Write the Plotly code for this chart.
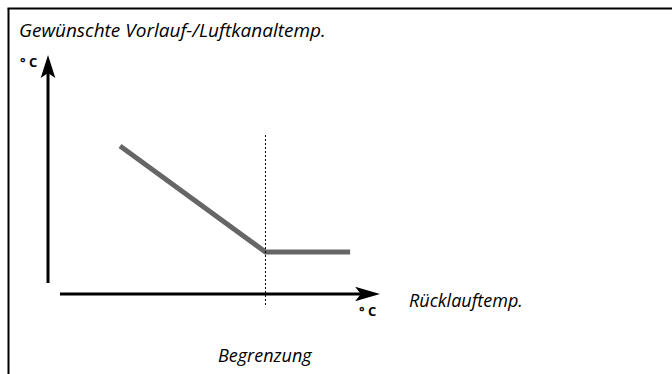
import plotly.graph_objects as go

# Schematic: desired flow / duct temperature versus return temperature,
# with a limit ("Begrenzung") on the return temperature.
ruecklauf = [2.17, 6.55, 9.10]     # return temperature (schematic units)
vorlauf = [6.19, 1.76, 1.76]       # desired flow temperature (schematic units)
begrenzung = 6.55                  # return temperature limit

title_text = "Gewünschte Vorlauf-/Luftkanaltemp."
x_label = "Rücklauftemp."
limit_label = "Begrenzung"
unit_label = "° C"

W, H = 672, 374
FONT = "Open Sans"

# axis window so that the schematic sits where the arrows are drawn
x_range = [-1.446, 18.795]
y_range = [-3.347, 12.30]
x_tip, y_tip = 10.0, 10.0

fig = go.Figure()

fig.add_trace(go.Scatter(
    x=ruecklauf, y=vorlauf, mode="lines",
    line=dict(color="#666666", width=5),
    hoverinfo="skip", showlegend=False,
))

shapes = []
# axes lines
shapes.append(dict(type="line", x0=0, x1=0, y0=0.46, y1=9.3,
                   line=dict(color="black", width=3)))
shapes.append(dict(type="line", x0=0.36, x1=9.5, y0=0, y1=0,
                   line=dict(color="black", width=3)))
# arrow heads
shapes.append(dict(type="path",
                   path=f"M {x_tip},0 L 9.25,0.30 L 9.42,0 L 9.25,-0.30 Z",
                   fillcolor="black", line=dict(width=0)))
shapes.append(dict(type="path",
                   path=f"M 0,{y_tip} L 0.22,9.04 L 0,9.25 L -0.22,9.04 Z",
                   fillcolor="black", line=dict(width=0)))
# dashed limit line
shapes.append(dict(type="line", x0=begrenzung, x1=begrenzung, y0=-0.46, y1=6.65,
                   line=dict(color="black", width=1, dash="2px,2px")))
# frame (left and top)
shapes.append(dict(type="line", xref="paper", yref="paper",
                   x0=8.5 / W, x1=8.5 / W, y0=0, y1=1 - 8.5 / H,
                   line=dict(color="black", width=2)))
shapes.append(dict(type="line", xref="paper", yref="paper",
                   x0=7.5 / W, x1=1, y0=1 - 8.5 / H, y1=1 - 8.5 / H,
                   line=dict(color="black", width=2)))


def txt(text, px, py, size, xanchor="left", italic=True, bold=False):
    return dict(text=text, xref="paper", yref="paper",
                x=px / W, y=1 - py / H, xanchor=xanchor, yanchor="middle",
                showarrow=False,
                font=dict(family=FONT, size=size, color="black",
                          style="italic" if italic else "normal",
                          weight="bold" if bold else "normal"))


annotations = [
    txt(title_text, 17, 30, 19),
    txt(unit_label, 18, 62, 13, italic=False, bold=True),
    txt(unit_label, 357, 311, 13, italic=False, bold=True),
    txt(x_label, 407, 300, 18),
    txt(limit_label, 265, 355, 18, xanchor="center"),
]

fig.update_layout(
    width=W, height=H,
    margin=dict(l=0, r=0, t=0, b=0),
    paper_bgcolor="white", plot_bgcolor="white",
    xaxis=dict(range=x_range, visible=False, fixedrange=True),
    yaxis=dict(range=y_range, visible=False, fixedrange=True),
    shapes=shapes, annotations=annotations,
    showlegend=False,
)

fig.write_html("out.html")
